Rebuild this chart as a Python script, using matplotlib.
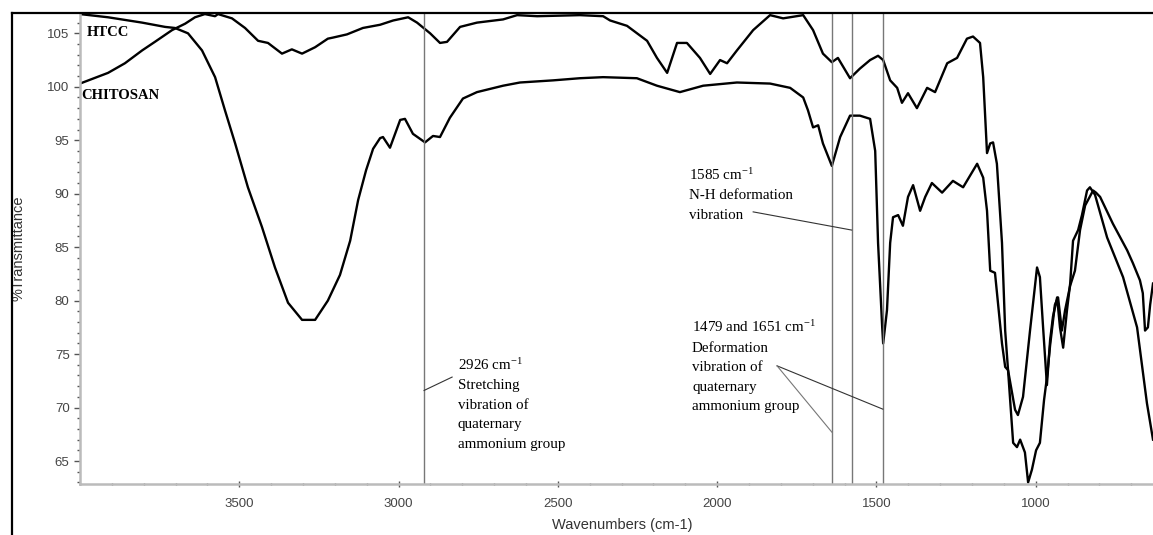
import matplotlib
matplotlib.use("Agg")
import matplotlib.pyplot as plt
from matplotlib.lines import Line2D
from matplotlib.ticker import MultipleLocator, FixedLocator

plt.rcParams['font.family'] = ['Liberation Sans', 'DejaVu Sans']
plt.rcParams['mathtext.fontset'] = 'stix'

# FTIR spectra (wavenumber cm-1, %T)
htcc_wn = [4000, 3912, 3805, 3733, 3702, 3661, 3617, 3576, 3545, 3513, 3473, 3429,
           3388, 3347, 3303, 3262, 3222, 3184, 3152, 3127, 3102, 3080, 3058, 3049,
           3027, 2995, 2980, 2955, 2917, 2892, 2870, 2839, 2798, 2754, 2672, 2619,
           2515, 2431, 2358, 2252, 2189, 2117, 2044, 1938, 1834, 1771, 1730, 1715,
           1699, 1683, 1668, 1640, 1614, 1583, 1552, 1520, 1504, 1495, 1482, 1479,
           1467, 1457, 1448, 1432, 1417, 1401, 1385, 1363, 1347, 1326, 1294, 1260,
           1228, 1184, 1165, 1153, 1143, 1128, 1106, 1096, 1087, 1065, 1056, 1040,
           1018, 996, 987, 977, 965, 955, 946, 933, 924, 914, 902, 892, 883, 867,
           855, 839, 830, 814, 776, 726, 682, 651, 632]
htcc_t = [106.8, 106.5, 106.0, 105.6, 105.5, 105.0, 103.4, 100.9, 97.8, 94.7, 90.6, 86.9,
          83.1, 79.8, 78.2, 78.2, 80.0, 82.4, 85.6, 89.4, 92.2, 94.2, 95.2, 95.3,
          94.3, 96.9, 97.0, 95.6, 94.8, 95.4, 95.3, 97.1, 98.9, 99.5, 100.1, 100.4,
          100.6, 100.8, 100.9, 100.8, 100.1, 99.5, 100.1, 100.4, 100.3, 99.9, 99.0, 97.8,
          96.2, 96.4, 94.7, 92.6, 95.3, 97.3, 97.3, 97.0, 94.0, 85.4, 77.5, 76.0,
          79.1, 85.4, 87.8, 88.0, 87.0, 89.7, 90.8, 88.4, 89.7, 91.0, 90.1, 91.2,
          90.6, 92.8, 91.5, 88.4, 82.8, 82.6, 76.0, 73.8, 73.5, 69.8, 69.3, 71.0,
          77.2, 83.1, 82.2, 77.5, 72.1, 76.3, 78.5, 80.3, 77.5, 75.6, 79.1, 81.6, 85.6, 86.6,
          88.0, 90.3, 90.6, 89.9, 85.9, 82.2, 77.5, 70.4, 67.0]

chitosan_wn = [4000, 3912, 3859, 3805, 3765, 3711, 3670, 3639, 3608, 3576, 3567, 3523,
               3482, 3441, 3410, 3366, 3335, 3303, 3262, 3222, 3206, 3162, 3112, 3058,
               3017, 2970, 2942, 2901, 2870, 2848, 2807, 2754, 2672, 2628, 2565, 2431,
               2358, 2336, 2283, 2220, 2189, 2157, 2126, 2095, 2054, 2022, 1991, 1969,
               1938, 1887, 1834, 1793, 1730, 1699, 1668, 1640, 1621, 1583, 1552, 1520,
               1495, 1479, 1457, 1435, 1420, 1401, 1373, 1341, 1316, 1278, 1247, 1216,
               1197, 1175, 1165, 1153, 1143, 1134, 1122, 1106, 1096, 1087, 1071, 1059,
               1049, 1034, 1024, 1012, 999, 987, 974, 965, 955, 940, 930, 918, 908, 892,
               877, 861, 845, 820, 811, 798, 758, 713, 695, 673, 664, 657, 648, 641, 632]
chitosan_t = [100.3, 101.3, 102.2, 103.4, 104.2, 105.3, 105.9, 106.5, 106.8, 106.6, 106.8, 106.4,
              105.5, 104.3, 104.1, 103.1, 103.5, 103.1, 103.7, 104.5, 104.6, 104.9, 105.5, 105.8,
              106.2, 106.5, 106.0, 105.0, 104.1, 104.2, 105.6, 106.0, 106.3, 106.7, 106.6, 106.7,
              106.6, 106.2, 105.7, 104.3, 102.7, 101.3, 104.1, 104.1, 102.7, 101.2, 102.5, 102.2,
              103.4, 105.3, 106.7, 106.4, 106.7, 105.3, 103.1, 102.3, 102.7, 100.8, 101.7, 102.5,
              102.9, 102.5, 100.6, 99.9, 98.5, 99.4, 98.0, 99.9, 99.5, 102.2, 102.7, 104.5,
              104.7, 104.1, 100.9, 93.8, 94.7, 94.8, 92.8, 85.4, 77.2, 73.5, 66.7, 66.3,
              67.0, 65.8, 63.0, 64.2, 66.0, 66.7, 70.7, 72.8, 75.8, 79.6, 80.3, 77.2, 79.1, 81.4,
              82.8, 86.6, 88.9, 90.3, 90.1, 89.7, 87.2, 84.7, 83.5, 81.9, 80.7, 77.2, 77.5, 79.6, 81.6]

marker_lines = [2920, 1640, 1578, 1480]
x_ticks = [3500, 3000, 2500, 2000, 1500, 1000]

W, H = 1153, 535
fig = plt.figure(figsize=(W / 100, H / 100), dpi=100)
ax = fig.add_axes([80 / W, 1 - 484 / H, 1 - 80 / W, (484 - 13) / H])

ax.plot(htcc_wn, htcc_t, color='black', lw=1.7)
ax.plot(chitosan_wn, chitosan_t, color='black', lw=1.7)

for wn in marker_lines:
    ax.axvline(wn, color='#777777', lw=1.0)

ax.set_xlim(4000, 632)
ax.set_ylim(62.85, 106.9)
ax.xaxis.set_major_locator(FixedLocator(x_ticks))
ax.xaxis.set_minor_locator(MultipleLocator(100))
ax.yaxis.set_major_locator(MultipleLocator(5))
ax.yaxis.set_minor_locator(MultipleLocator(1))

for s in ['top', 'right']:
    ax.spines[s].set_visible(False)
for s in ['left', 'bottom']:
    ax.spines[s].set_color('#bbbbbb')
    ax.spines[s].set_linewidth(1.8)

ax.tick_params(axis='both', which='major', colors='#555555', labelcolor='#444444',
               labelsize=9.5, length=4, width=1)
ax.tick_params(axis='both', which='minor', colors='#555555', length=2, width=1)
ax.tick_params(axis='x', which='both', direction='inout')
ax.tick_params(axis='x', which='major', pad=8)

ax.set_xlabel('Wavenumbers (cm-1)', fontsize=10.5, color='#333333')
ax.xaxis.set_label_coords(0.505, -0.072)
ax.set_ylabel('%Transmittance', fontsize=10.5, color='#333333')
ax.yaxis.set_label_coords(-0.0505, 0.5)

serif = ['Liberation Serif', 'DejaVu Serif']
ax.text(3978, 105.1, 'HTCC', family=serif, fontweight='bold', fontsize=10.5, va='center')
ax.text(3995, 99.2, 'CHITOSAN', family=serif, fontweight='bold', fontsize=10.5, va='center')

cm = r'cm$^{\mathregular{-1}}$'
ax.text(2815, 74.8, '2926 ' + cm + '\nStretching\nvibration of\nquaternary\nammonium group',
        family=serif, fontsize=10.8, va='top', linespacing=1.65)
ax.text(2088, 92.6, '1585 ' + cm + '\nN-H deformation\nvibration',
        family=serif, fontsize=10.8, va='top', linespacing=1.65)
ax.text(2079, 78.3, '1479 and 1651 ' + cm + '\nDeformation\nvibration of\nquaternary\nammonium group',
        family=serif, fontsize=10.8, va='top', linespacing=1.65)

# leader lines
ax.plot([2920, 2832], [71.6, 72.85], color='#333333', lw=0.8)
ax.plot([1887, 1578], [88.3, 86.6], color='#333333', lw=0.8)
ax.plot([1812, 1480], [73.9, 69.85], color='#333333', lw=0.8)
ax.plot([1812, 1640], [73.9, 67.7], color='#777777', lw=0.8)

# outer frame (left and top)
fig.add_artist(Line2D([12 / W, 12 / W], [0, 1 - 13 / H], color='black', lw=1.6))
fig.add_artist(Line2D([12 / W, 1], [1 - 13 / H, 1 - 13 / H], color='black', lw=1.6))

fig.savefig('out.png', dpi=100)
